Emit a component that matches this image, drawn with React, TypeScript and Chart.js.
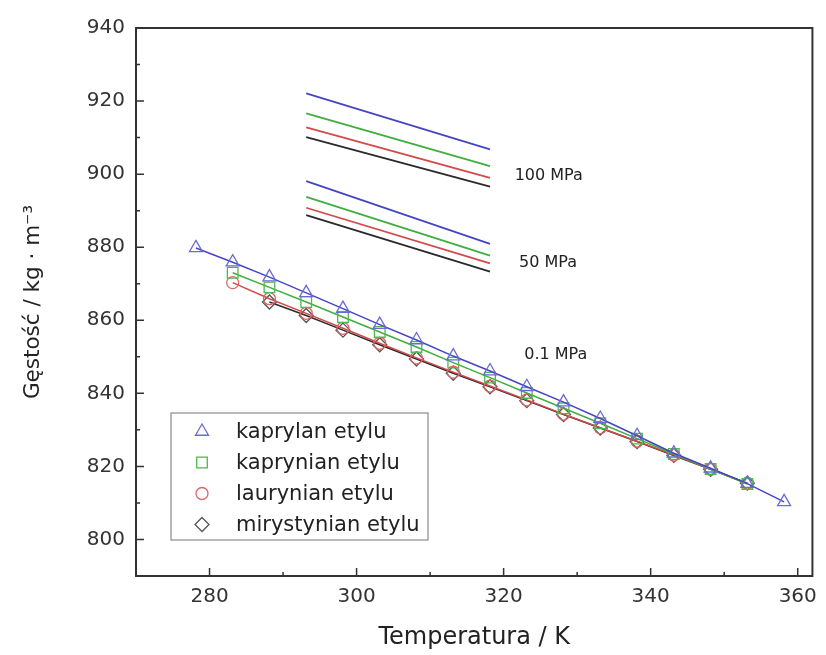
import React, { useEffect, useRef } from 'react';
import { Chart, registerables } from 'chart.js';
import { drawPoint } from 'chart.js/helpers';

Chart.register(...registerables);

// ---- data (0.1 MPa measured points) ----
const T_KAPRYLAN = [278.15, 283.15, 288.15, 293.15, 298.15, 303.15, 308.15, 313.15, 318.15, 323.15, 328.15, 333.15, 338.15, 343.15, 348.15, 353.15, 358.15];
const RHO_KAPRYLAN = [879.8, 875.9, 871.8, 867.5, 863.2, 858.8, 854.6, 850.2, 846.1, 841.8, 837.6, 833.1, 828.4, 823.6, 819.5, 815.3, 810.3];

const T_KAPRYNIAN = [283.15, 288.15, 293.15, 298.15, 303.15, 308.15, 313.15, 318.15, 323.15, 328.15, 333.15, 338.15, 343.15, 348.15, 353.15];
const RHO_KAPRYNIAN = [873.0, 869.0, 865.0, 860.9, 856.8, 852.7, 848.4, 844.3, 840.1, 835.9, 831.8, 827.6, 823.4, 819.3, 815.2];

const T_LAURYNIAN = [283.15, 288.15, 293.15, 298.15, 303.15, 308.15, 313.15, 318.15, 323.15, 328.15, 333.15, 338.15, 343.15, 348.15, 353.15];
const RHO_LAURYNIAN = [870.3, 865.9, 861.9, 857.8, 853.7, 849.7, 845.8, 842.0, 838.2, 834.3, 830.6, 826.9, 823.1, 819.2, 815.4];

const T_MIRYSTYNIAN = [288.15, 293.15, 298.15, 303.15, 308.15, 313.15, 318.15, 323.15, 328.15, 333.15, 338.15, 343.15, 348.15, 353.15];
const RHO_MIRYSTYNIAN = [865.0, 861.3, 857.3, 853.3, 849.4, 845.5, 841.8, 838.0, 834.2, 830.5, 826.8, 823.0, 819.2, 815.4];

// ---- high-pressure correlation lines ----
const T_HP = [293.15, 318.15];
const RHO_100_KAPRYLAN = [922.1, 906.8];
const RHO_100_KAPRYNIAN = [916.6, 902.2];
const RHO_100_LAURYNIAN = [912.8, 899.0];
const RHO_100_MIRYSTYNIAN = [910.1, 896.6];
const RHO_50_KAPRYLAN = [898.1, 880.9];
const RHO_50_KAPRYNIAN = [893.8, 877.7];
const RHO_50_LAURYNIAN = [890.8, 875.6];
const RHO_50_MIRYSTYNIAN = [888.8, 873.3];

// ---- labels / ticks ----
const SERIES_NAMES = ['kaprylan etylu', 'kaprynian etylu', 'laurynian etylu', 'mirystynian etylu'];
const PRESSURE_LABELS = ['100 MPa', '50 MPa', '0.1 MPa'];
const PRESSURE_LABEL_T = [321.5, 322.1, 322.8];
const PRESSURE_LABEL_RHO = [899.5, 875.6, 850.5];

const X_TICKS = [280, 300, 320, 340, 360];
const X_MINOR = [290, 310, 330, 350];
const Y_TICKS = [800, 820, 840, 860, 880, 900, 920, 940];
const Y_MINOR = [810, 830, 850, 870, 890, 910, 930];

const FONT = '"DejaVu Sans", "Liberation Sans", Arial, sans-serif';

const MARKER_COLORS = ['#6b6bd6', '#4fb84f', '#e06464', '#555555'];
const LINE_COLORS = ['#4545c4', '#3fae3f', '#d44a4a', '#2a2a2a'];
const MARKER_STYLES = ['triangle', 'rect', 'circle', 'rectRot'];
const MARKER_RADII = [7.5, 7.5, 6, 7];

const zip = (xs: number[], ys: number[]) => xs.map((x, i) => ({ x, y: ys[i] }));

const framePlugin = {
  id: 'frame',
  afterDraw(chart: any) {
    const { ctx, chartArea: a, scales } = chart;
    const x = scales.x;
    const y = scales.y;
    ctx.save();
    ctx.strokeStyle = '#333333';
    ctx.lineWidth = 2;
    ctx.strokeRect(a.left, a.top, a.right - a.left, a.bottom - a.top);
    ctx.lineWidth = 1.5;
    ctx.beginPath();
    X_TICKS.forEach((v) => {
      const p = x.getPixelForValue(v);
      ctx.moveTo(p, a.bottom);
      ctx.lineTo(p, a.bottom - 8);
    });
    X_MINOR.forEach((v) => {
      const p = x.getPixelForValue(v);
      ctx.moveTo(p, a.bottom);
      ctx.lineTo(p, a.bottom - 4);
    });
    Y_TICKS.forEach((v) => {
      const p = y.getPixelForValue(v);
      ctx.moveTo(a.left, p);
      ctx.lineTo(a.left + 8, p);
    });
    Y_MINOR.forEach((v) => {
      const p = y.getPixelForValue(v);
      ctx.moveTo(a.left, p);
      ctx.lineTo(a.left + 4, p);
    });
    ctx.stroke();

    // legend box
    const left = a.left + 35;
    const top = a.bottom - 163;
    const w = 257;
    const h = 127;
    ctx.fillStyle = '#ffffff';
    ctx.fillRect(left, top, w, h);
    ctx.strokeStyle = '#8a8a8a';
    ctx.lineWidth = 1.2;
    ctx.strokeRect(left, top, w, h);
    ctx.font = `21px ${FONT}`;
    ctx.textBaseline = 'middle';
    ctx.textAlign = 'left';
    SERIES_NAMES.forEach((name, i) => {
      const cy = top + 18.5 + i * 31;
      ctx.strokeStyle = MARKER_COLORS[i];
      ctx.fillStyle = 'rgba(0,0,0,0)';
      ctx.lineWidth = 1.3;
      drawPoint(ctx, { pointStyle: MARKER_STYLES[i], radius: MARKER_RADII[i], rotation: 0, borderWidth: 1.3 } as any, left + 31, cy);
      ctx.fillStyle = '#222222';
      ctx.fillText(name, left + 65, cy + 1);
    });
    ctx.restore();
  },
  afterDatasetsDraw(chart: any) {
    const { ctx, scales } = chart;
    ctx.save();
    ctx.font = `16px ${FONT}`;
    ctx.fillStyle = '#222222';
    ctx.textBaseline = 'middle';
    ctx.textAlign = 'left';
    PRESSURE_LABELS.forEach((t, i) => {
      ctx.fillText(t, scales.x.getPixelForValue(PRESSURE_LABEL_T[i]), scales.y.getPixelForValue(PRESSURE_LABEL_RHO[i]));
    });
    ctx.restore();
  },
};

export default function App() {
  const ref = useRef<HTMLCanvasElement | null>(null);

  useEffect(() => {
    if (!ref.current) return;
    const pointSets = [
      zip(T_KAPRYLAN, RHO_KAPRYLAN),
      zip(T_KAPRYNIAN, RHO_KAPRYNIAN),
      zip(T_LAURYNIAN, RHO_LAURYNIAN),
      zip(T_MIRYSTYNIAN, RHO_MIRYSTYNIAN),
    ];
    const hp100 = [RHO_100_KAPRYLAN, RHO_100_KAPRYNIAN, RHO_100_LAURYNIAN, RHO_100_MIRYSTYNIAN];
    const hp50 = [RHO_50_KAPRYLAN, RHO_50_KAPRYNIAN, RHO_50_LAURYNIAN, RHO_50_MIRYSTYNIAN];

    const datasets: any[] = pointSets.map((d, i) => ({
      label: SERIES_NAMES[i],
      data: d,
      showLine: true,
      borderColor: LINE_COLORS[i],
      borderWidth: 1.5,
      pointStyle: MARKER_STYLES[i],
      pointRadius: MARKER_RADII[i],
      pointBorderColor: MARKER_COLORS[i],
      pointBackgroundColor: 'rgba(0,0,0,0)',
      pointBorderWidth: 1.3,
    }));
    [hp100, hp50].forEach((group, g) => {
      group.forEach((rho, i) => {
        datasets.push({
          label: `${SERIES_NAMES[i]} ${g === 0 ? '100' : '50'} MPa`,
          data: zip(T_HP, rho),
          showLine: true,
          borderColor: LINE_COLORS[i],
          borderWidth: 1.8,
          pointRadius: 0,
        });
      });
    });

    const tickFont = { family: FONT, size: 20 };
    const chart = new Chart(ref.current, {
      type: 'scatter',
      data: { datasets },
      plugins: [framePlugin],
      options: {
        animation: false,
        responsive: true,
        maintainAspectRatio: false,
        layout: { padding: { left: 0, top: 28, right: 8, bottom: 0 } },
        plugins: { legend: { display: false }, tooltip: { enabled: false } },
        scales: {
          x: {
            type: 'linear',
            min: 270,
            max: 362,
            grid: { display: false, drawTicks: false },
            border: { display: false },
            ticks: { font: tickFont, color: '#333333', padding: 9, maxRotation: 0 },
            afterBuildTicks: (s: any) => { s.ticks = X_TICKS.map((v) => ({ value: v })); },
            afterFit: (s: any) => { s.height = 79; },
            title: { display: true, text: 'Temperatura / K', font: { family: FONT, size: 24 }, color: '#222222', padding: { top: 0, bottom: 3 } },
          },
          y: {
            type: 'linear',
            min: 790,
            max: 940,
            grid: { display: false, drawTicks: false },
            border: { display: false },
            ticks: { font: tickFont, color: '#333333', padding: 11 },
            afterBuildTicks: (s: any) => { s.ticks = Y_TICKS.map((v) => ({ value: v })); },
            afterFit: (s: any) => { s.width = 136; },
            title: { display: true, text: 'Gęstość / kg · m⁻³', font: { family: FONT, size: 21.5 }, color: '#222222', padding: { top: 21, bottom: 0 } },
          },
        },
      } as any,
    });
    return () => chart.destroy();
  }, []);

  return (
    <div style={{ position: 'fixed', left: 0, top: 0, width: 826, height: 655, background: '#ffffff' }}>
      <canvas ref={ref} />
    </div>
  );
}
